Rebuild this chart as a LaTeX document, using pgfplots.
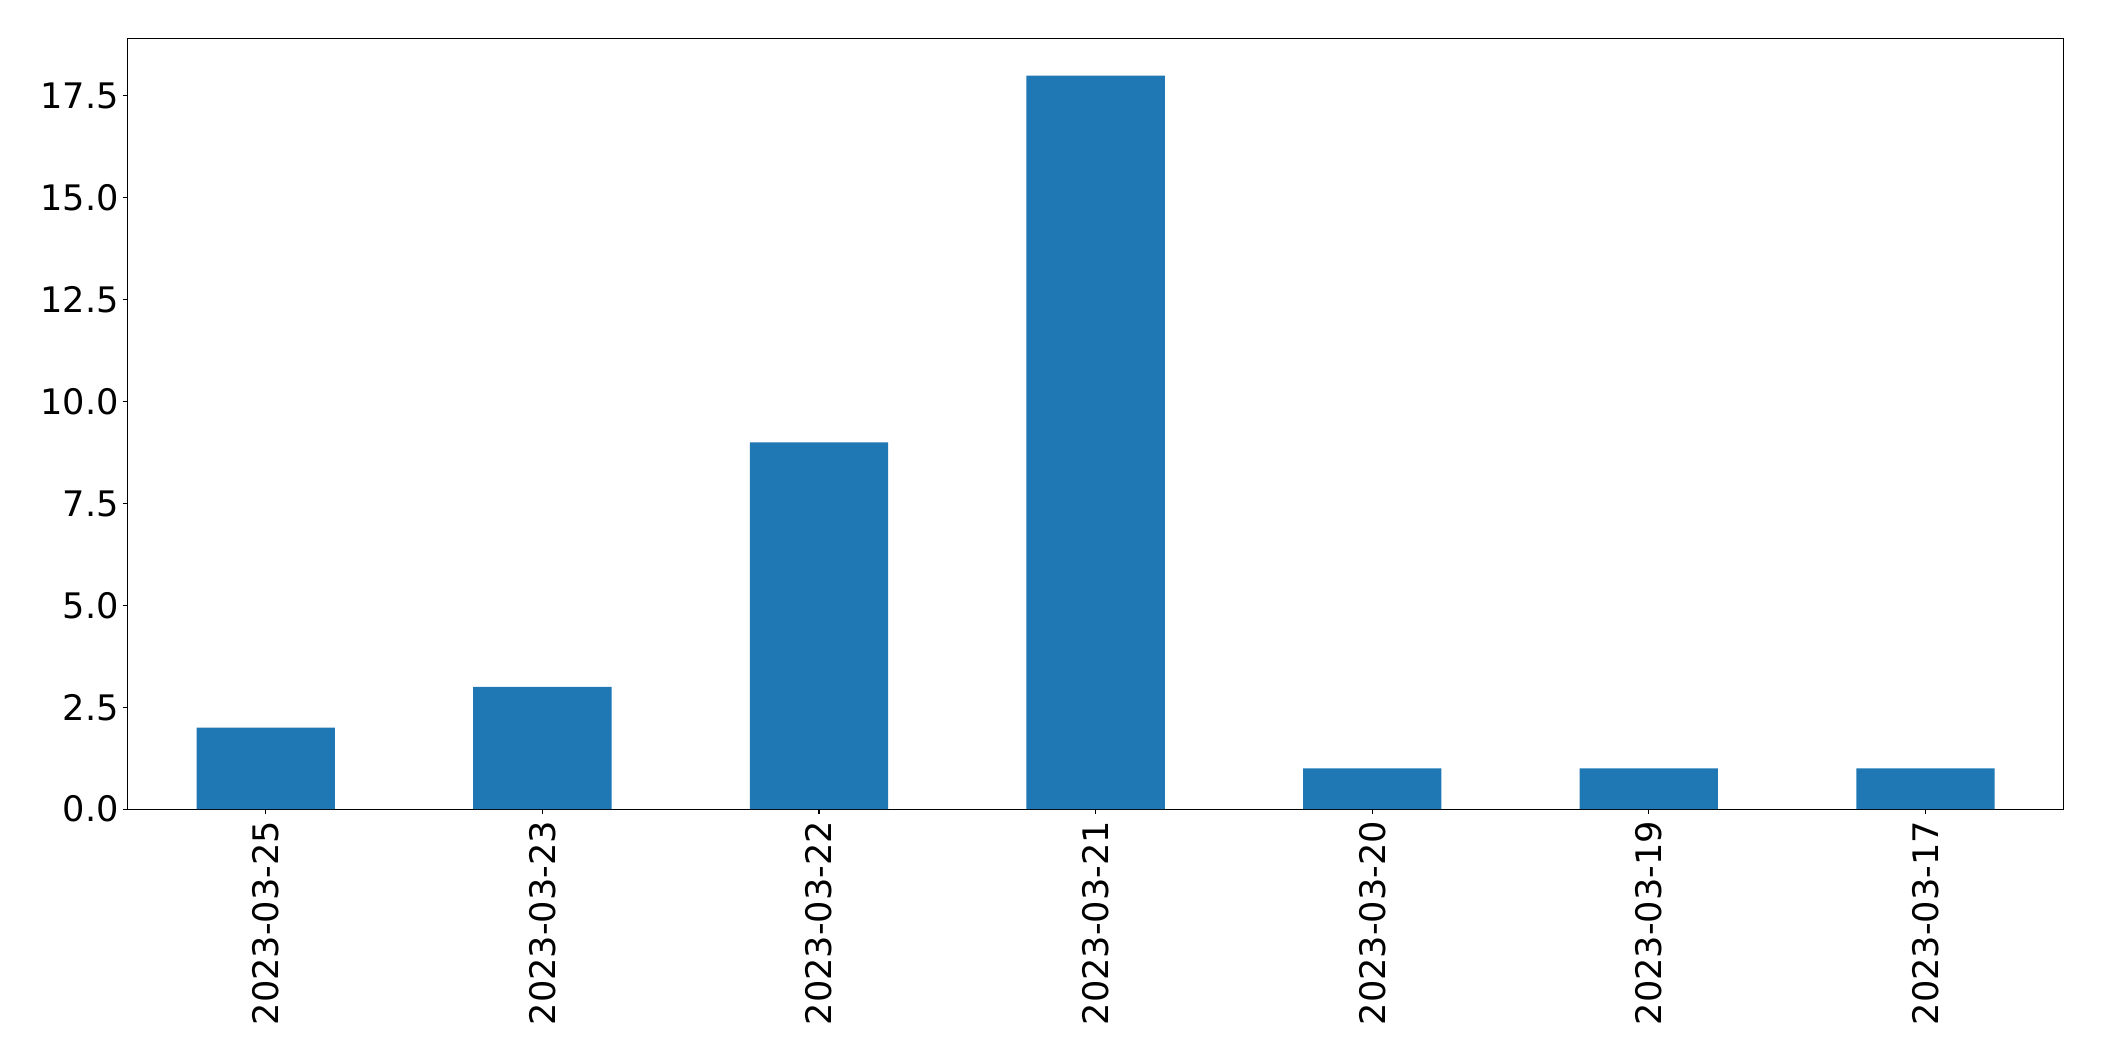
\documentclass[border=0pt]{standalone}
\usepackage{fontspec}
\setmainfont{DejaVu Sans}
\usepackage{pgfplots}
\pgfplotsset{compat=1.18}
\definecolor{mplblue}{HTML}{1F77B4}

\begin{document}
\begin{tikzpicture}
\useasboundingbox (-47.5pt,-94pt) rectangle (736.5pt,301.5pt);
\begin{axis}[
	scale only axis,
	width=721.5pt, height=287pt,
	xmin=-0.5, xmax=6.5,
	ymin=0, ymax=18.9,
	ybar, bar width=0.5,
	xtick=data,
	xticklabels={2023-03-25,2023-03-23,2023-03-22,2023-03-21,2023-03-20,2023-03-19,2023-03-17},
	x tick label style={rotate=90, anchor=east, inner sep=2.4pt},
	ytick={0,2.5,5,7.5,10,12.5,15,17.5},
	yticklabel style={/pgf/number format/fixed, /pgf/number format/fixed zerofill, /pgf/number format/precision=1, inner sep=1.3pt},
	/pgf/number format/assume math mode=true,
	tick label style={font=\fontsize{13.1}{15}\selectfont},
	xtick pos=left, ytick pos=left,
	tick align=outside,
	major tick length=1.8pt,
	tick style={black, line width=0.4pt},
	axis line style={line width=0.4pt},
]
\addplot[fill=mplblue, draw=none] coordinates {(0,2) (1,3) (2,9) (3,18) (4,1) (5,1) (6,1)};
\end{axis}
\end{tikzpicture}
\end{document}
